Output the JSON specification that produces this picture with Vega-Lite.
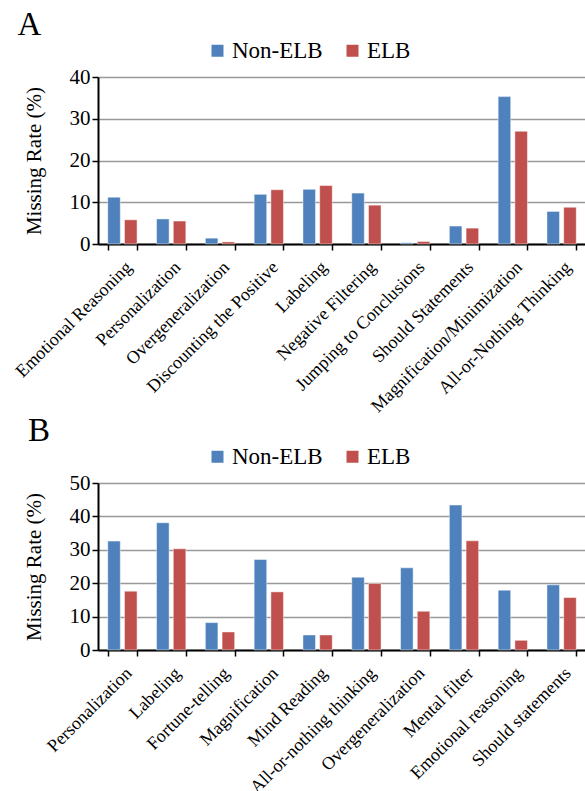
{
  "$schema": "https://vega.github.io/schema/vega-lite/v6.json",
  "padding": {"left": 12, "top": 9, "right": 0, "bottom": 0},
  "background": "white",
  "bounds": "flush",
  "spacing": 239,
  "config": {
    "font": "Liberation Serif, serif",
    "view": {"stroke": null},
    "axis": {
      "labelFont": "Liberation Serif, serif",
      "titleFont": "Liberation Serif, serif",
      "labelColor": "black",
      "titleColor": "black",
      "domainColor": "black",
      "tickColor": "black",
      "titleFontWeight": "normal"
    },
    "legend": {"labelFont": "Liberation Serif, serif", "labelColor": "black"},
    "title": {"font": "Liberation Serif, serif", "fontWeight": "normal", "color": "black"}
  },
  "datasets": {
    "panelA": [
      {"category": "Emotional Reasoning", "group": "Non-ELB", "value": 11.2},
      {"category": "Emotional Reasoning", "group": "ELB", "value": 5.8},
      {"category": "Personalization", "group": "Non-ELB", "value": 6.0},
      {"category": "Personalization", "group": "ELB", "value": 5.5},
      {"category": "Overgeneralization", "group": "Non-ELB", "value": 1.4},
      {"category": "Overgeneralization", "group": "ELB", "value": 0.5},
      {"category": "Discounting the Positive", "group": "Non-ELB", "value": 11.9},
      {"category": "Discounting the Positive", "group": "ELB", "value": 13.0},
      {"category": "Labeling", "group": "Non-ELB", "value": 13.1},
      {"category": "Labeling", "group": "ELB", "value": 14.0},
      {"category": "Negative Filtering", "group": "Non-ELB", "value": 12.2},
      {"category": "Negative Filtering", "group": "ELB", "value": 9.3},
      {"category": "Jumping to Conclusions", "group": "Non-ELB", "value": 0.3},
      {"category": "Jumping to Conclusions", "group": "ELB", "value": 0.6},
      {"category": "Should Statements", "group": "Non-ELB", "value": 4.3},
      {"category": "Should Statements", "group": "ELB", "value": 3.8},
      {"category": "Magnification/Minimization", "group": "Non-ELB", "value": 35.3},
      {"category": "Magnification/Minimization", "group": "ELB", "value": 27.0},
      {"category": "All-or-Nothing Thinking", "group": "Non-ELB", "value": 7.8},
      {"category": "All-or-Nothing Thinking", "group": "ELB", "value": 8.8}
    ],
    "panelB": [
      {"category": "Personalization", "group": "Non-ELB", "value": 32.6},
      {"category": "Personalization", "group": "ELB", "value": 17.6},
      {"category": "Labeling", "group": "Non-ELB", "value": 38.1},
      {"category": "Labeling", "group": "ELB", "value": 30.3},
      {"category": "Fortune-telling", "group": "Non-ELB", "value": 8.2},
      {"category": "Fortune-telling", "group": "ELB", "value": 5.4},
      {"category": "Magnification", "group": "Non-ELB", "value": 27.1},
      {"category": "Magnification", "group": "ELB", "value": 17.4},
      {"category": "Mind Reading", "group": "Non-ELB", "value": 4.5},
      {"category": "Mind Reading", "group": "ELB", "value": 4.5},
      {"category": "All-or-nothing thinking", "group": "Non-ELB", "value": 21.8},
      {"category": "All-or-nothing thinking", "group": "ELB", "value": 19.9},
      {"category": "Overgeneralization", "group": "Non-ELB", "value": 24.6},
      {"category": "Overgeneralization", "group": "ELB", "value": 11.6},
      {"category": "Mental filter", "group": "Non-ELB", "value": 43.4},
      {"category": "Mental filter", "group": "ELB", "value": 32.7},
      {"category": "Emotional reasoning", "group": "Non-ELB", "value": 17.9},
      {"category": "Emotional reasoning", "group": "ELB", "value": 2.9},
      {"category": "Should statements", "group": "Non-ELB", "value": 19.5},
      {"category": "Should statements", "group": "ELB", "value": 15.7}
    ]
  },
  "resolve": {"scale": {"color": "independent"}, "legend": {"color": "independent"}},
  "vconcat": [
    {
      "width": 488,
      "height": 167,
      "title": {"text": "A", "anchor": "start", "fontSize": 33, "frame": "bounds", "offset": -3, "dx": 5},
      "data": {"name": "panelA"},
      "mark": {"type": "bar", "stroke": "white", "strokeWidth": 1, "strokeOpacity": 0.45},
      "encoding": {
        "x": {
          "field": "category", "type": "nominal", "sort": null,
          "scale": {"paddingInner": 0.4, "paddingOuter": 0.2},
          "axis": {
            "title": null, "labelAngle": -45, "labelFontSize": 18, "labelLimit": 400,
            "tickBand": "extent", "tickSize": 6, "tickWidth": 1.5, "domainWidth": 2, "labelPadding": 8, "grid": false
          }
        },
        "xOffset": {"field": "group", "sort": ["Non-ELB", "ELB"], "scale": {"paddingInner": 0.25}},
        "y": {
          "field": "value", "type": "quantitative",
          "scale": {"domain": [0, 40]},
          "axis": {
            "title": "Missing Rate (%)", "titleFontSize": 21, "labelFontSize": 21,
            "values": [0, 10, 20, 30, 40], "tickSize": 6, "tickWidth": 1.5, "domainWidth": 2,
            "labelPadding": 2, "titlePadding": 25, "grid": true, "gridColor": "#999999", "gridWidth": 1.5
          }
        },
        "color": {
          "field": "group", "type": "nominal",
          "scale": {"domain": ["Non-ELB", "ELB"], "range": ["#4F81BD", "#C0504D"]},
          "legend": {
            "title": null, "orient": "none", "direction": "horizontal", "legendX": 108, "legendY": -38,
            "labelFontSize": 23, "symbolType": "square", "symbolSize": 144, "symbolStrokeWidth": 0,
            "labelOffset": 3, "columnPadding": 18
          }
        }
      }
    },
    {
      "width": 488,
      "height": 167,
      "title": {"text": "B", "anchor": "start", "fontSize": 33, "frame": "bounds", "offset": -3, "dx": 5},
      "data": {"name": "panelB"},
      "mark": {"type": "bar", "stroke": "white", "strokeWidth": 1, "strokeOpacity": 0.45},
      "encoding": {
        "x": {
          "field": "category", "type": "nominal", "sort": null,
          "scale": {"paddingInner": 0.4, "paddingOuter": 0.2},
          "axis": {
            "title": null, "labelAngle": -45, "labelFontSize": 18, "labelLimit": 400,
            "tickBand": "extent", "tickSize": 6, "tickWidth": 1.5, "domainWidth": 2, "labelPadding": 8, "grid": false
          }
        },
        "xOffset": {"field": "group", "sort": ["Non-ELB", "ELB"], "scale": {"paddingInner": 0.25}},
        "y": {
          "field": "value", "type": "quantitative",
          "scale": {"domain": [0, 50]},
          "axis": {
            "title": "Missing Rate (%)", "titleFontSize": 21, "labelFontSize": 21,
            "values": [0, 10, 20, 30, 40, 50], "tickSize": 6, "tickWidth": 1.5, "domainWidth": 2,
            "labelPadding": 2, "titlePadding": 25, "grid": true, "gridColor": "#999999", "gridWidth": 1.5
          }
        },
        "color": {
          "field": "group", "type": "nominal",
          "scale": {"domain": ["Non-ELB", "ELB"], "range": ["#4F81BD", "#C0504D"]},
          "legend": {
            "title": null, "orient": "none", "direction": "horizontal", "legendX": 108, "legendY": -38,
            "labelFontSize": 23, "symbolType": "square", "symbolSize": 144, "symbolStrokeWidth": 0,
            "labelOffset": 3, "columnPadding": 18
          }
        }
      }
    }
  ]
}
